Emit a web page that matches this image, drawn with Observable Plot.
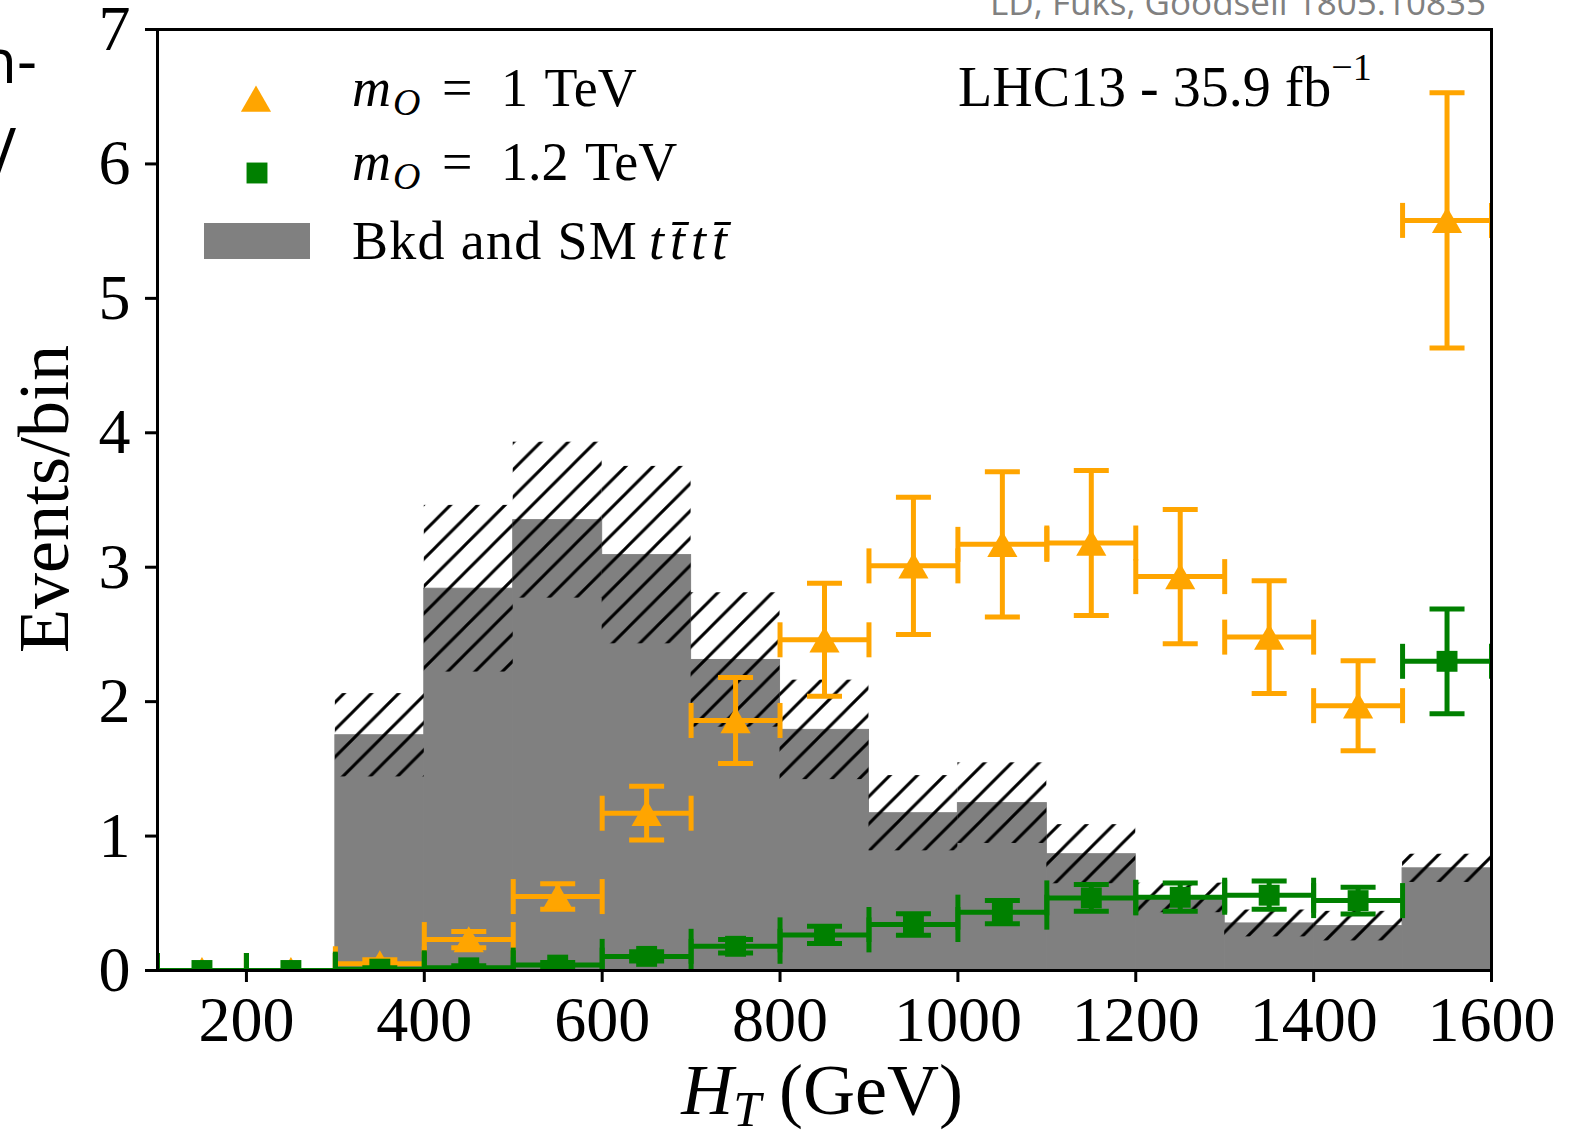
<!DOCTYPE html>
<html>
<head>
<meta charset="utf-8">
<script src="https://cdn.jsdelivr.net/npm/d3@7"></script>
<script src="https://cdn.jsdelivr.net/npm/@observablehq/plot@0.6"></script>
<style>
  html, body { margin: 0; padding: 0; background: #fff; }
  svg { display: block; }
</style>
</head>
<body>
<div id="chart"></div>
<script>
// H_T bins (GeV): centres of 100 GeV wide bins from 100 to 1600
const binCenters = [150, 250, 350, 450, 550, 650, 750, 850, 950, 1050, 1150, 1250, 1350, 1450, 1550];
const binHalfWidth = 50;

// Background + SM tttt expectation per bin and its uncertainty
const bkgYield = [0, 0, 1.75, 2.84, 3.35, 3.09, 2.31, 1.79, 1.17, 1.245, 0.865, 0.54, 0.35, 0.33, 0.76];
const bkgUnc   = [0, 0, 0.31, 0.62, 0.58, 0.66, 0.50, 0.37, 0.28, 0.30, 0.22, 0.11, 0.10, 0.11, 0.105];

// Signal, m_O = 1 TeV
const sig1000    = [0, 0, 0.05, 0.23, 0.55, 1.17, 1.86, 2.46, 3.01, 3.17, 3.18, 2.93, 2.48, 1.97, 5.58];
const sig1000Err = [0, 0, 0.03, 0.06, 0.095, 0.20, 0.32, 0.42, 0.51, 0.54, 0.54, 0.50, 0.42, 0.335, 0.95];

// Signal, m_O = 1.2 TeV
const sig1200    = [0, 0, 0.01, 0.02, 0.04, 0.105, 0.18, 0.265, 0.342, 0.434, 0.54, 0.545, 0.56, 0.52, 2.30];
const sig1200Err = [0, 0, 0.01, 0.015, 0.02, 0.035, 0.05, 0.065, 0.08, 0.087, 0.10, 0.105, 0.105, 0.10, 0.39];

// Axis ticks
const xTickValues = [200, 400, 600, 800, 1000, 1200, 1400, 1600];
const yTickValues = [0, 1, 2, 3, 4, 5, 6, 7];

const ORANGE = "#ffa500";
const GREEN = "#008000";
const GREY = "#808080";
const SERIF = "'Liberation Serif', 'DejaVu Serif', serif";
const SANS = "'Open Sans', 'Noto Sans', sans-serif";

const bkgRows = binCenters.map((c, i) => ({
  x1: c - binHalfWidth, x2: c + binHalfWidth, y: bkgYield[i],
  lo: bkgYield[i] - bkgUnc[i], hi: bkgYield[i] + bkgUnc[i]
}));

// short cap segments drawn as custom dot symbols (fixed pixel length)
const vCap = { draw(ctx, size) { const r = Math.sqrt(size / Math.PI); ctx.moveTo(0, -r); ctx.lineTo(0, r); } };
const hCap = { draw(ctx, size) { const r = Math.sqrt(size / Math.PI); ctx.moveTo(-r, 0); ctx.lineTo(r, 0); } };

function errorBars(vals, errs, color) {
  const rows = binCenters.map((c, i) => ({ c, v: vals[i], e: errs[i] }));
  const line = { stroke: color, strokeWidth: 5, strokeLinecap: "butt", clip: true };
  const cap = { ...line, fill: "none", r: 17.5 };
  return [
    Plot.ruleY(rows, { y: "v", x1: d => d.c - binHalfWidth, x2: d => d.c + binHalfWidth, ...line }),
    Plot.ruleX(rows, { x: "c", y1: d => d.v - d.e, y2: d => d.v + d.e, ...line }),
    Plot.dot(rows, { x: d => d.c - binHalfWidth, y: "v", symbol: vCap, ...cap }),
    Plot.dot(rows, { x: d => d.c + binHalfWidth, y: "v", symbol: vCap, ...cap }),
    Plot.dot(rows, { x: "c", y: d => d.v + d.e, symbol: hCap, ...cap }),
    Plot.dot(rows, { x: "c", y: d => d.v - d.e, symbol: hCap, ...cap })
  ];
}

const sig1000Rows = binCenters.map((c, i) => ({ c, v: sig1000[i] }));
const sig1200Rows = binCenters.map((c, i) => ({ c, v: sig1200[i] }));

const W = 1588, H = 1131;
const chart = Plot.plot({
  width: W,
  height: H,
  marginLeft: 157,
  marginRight: 97,
  marginTop: 29,
  marginBottom: 161,
  style: { background: "white", color: "black", overflow: "visible" },
  x: { domain: [100, 1600] },
  y: { domain: [0, 7] },
  marks: [
    // background histogram
    Plot.rect(bkgRows, { x1: "x1", x2: "x2", y1: 0, y2: "y", fill: GREY, stroke: GREY, strokeWidth: 1, clip: true }),
    // background uncertainty band, hatched
    Plot.rect(bkgRows.filter(d => d.hi > d.lo), { x1: "x1", x2: "x2", y1: "lo", y2: "hi", fill: "url(#bkgHatch)", clip: true }),
    // m_O = 1 TeV
    ...errorBars(sig1000, sig1000Err, ORANGE),
    Plot.dot(sig1000Rows, { x: "c", y: "v", symbol: "triangle", r: 11.2, dy: 4, fill: ORANGE, stroke: "none", clip: true }),
    // m_O = 1.2 TeV
    ...errorBars(sig1200, sig1200Err, GREEN),
    Plot.dot(sig1200Rows, { x: "c", y: "v", symbol: "square", r: 11.8, fill: GREEN, stroke: "none", clip: true }),
    Plot.frame({ stroke: "black", strokeWidth: 3 }),
    Plot.axisX({ ticks: xTickValues, tickFormat: d => String(d), tickSize: 12, tickPadding: 13, strokeWidth: 3, fontSize: 64, fontFamily: SERIF, label: null }),
    Plot.axisY({ ticks: yTickValues, tickFormat: d => String(d), tickSize: 12, tickPadding: 15, strokeWidth: 3, fontSize: 64, fontFamily: SERIF, label: null })
  ]
});

document.getElementById("chart").appendChild(chart);

const svg = d3.select(chart);

// hatch pattern for the uncertainty band
const S = 27.3;
svg.insert("defs", ":first-child")
  .append("pattern")
  .attr("id", "bkgHatch")
  .attr("patternUnits", "userSpaceOnUse")
  .attr("width", S).attr("height", S)
  .append("path")
  .attr("d", `M${-S / 4},${S / 4} L${S / 4},${-S / 4} M0,${S} L${S},0 M${S * 0.75},${S * 1.25} L${S * 1.25},${S * 0.75}`)
  .attr("stroke", "black").attr("stroke-width", 3).attr("fill", "none");

const overlay = svg.append("g").attr("class", "annotations").attr("text-anchor", "start");

// axis titles
overlay.append("text")
  .attr("transform", "translate(68,499) rotate(-90)")
  .attr("text-anchor", "middle")
  .attr("font-family", SERIF).attr("font-size", 72)
  .text("Events/bin");

const xt = overlay.append("text")
  .attr("x", 822).attr("y", 1114)
  .attr("text-anchor", "middle")
  .attr("font-family", SERIF).attr("font-size", 72);
xt.append("tspan").attr("font-style", "italic").text("H");
xt.append("tspan").attr("font-style", "italic").attr("font-size", 50).attr("dy", 12).text("T");
xt.append("tspan").attr("dy", -12).text("\u00a0(GeV)");

// legend
const legendFont = 54;
overlay.append("path")
  .attr("d", d3.symbol(d3.symbolTriangle, Math.PI * 11.2 * 11.2)())
  .attr("transform", "translate(256,103)")
  .attr("fill", ORANGE);
overlay.append("path")
  .attr("d", d3.symbol(d3.symbolSquare, Math.PI * 11.8 * 11.8)())
  .attr("transform", "translate(257,173)")
  .attr("fill", GREEN);
overlay.append("rect")
  .attr("x", 204).attr("y", 223).attr("width", 106).attr("height", 36)
  .attr("fill", GREY);

function massLabel(y, mass) {
  const t = overlay.append("text")
    .attr("y", y)
    .attr("text-anchor", "start")
    .attr("font-family", SERIF).attr("font-size", legendFont);
  t.append("tspan").attr("x", 352).attr("font-style", "italic").text("m");
  t.append("tspan").attr("font-style", "italic").attr("font-size", 38).attr("dx", 2).attr("dy", 9).text("O");
  t.append("tspan").attr("x", 442).attr("dy", -9).text("=");
  t.append("tspan").attr("x", 501).attr("word-spacing", 4).text(mass + " TeV");
}
massLabel(106, "1");
massLabel(180, "1.2");

const bk = overlay.append("text")
  .attr("y", 259)
  .attr("text-anchor", "start")
  .attr("font-family", SERIF).attr("font-size", legendFont);
bk.append("tspan").attr("x", 352).attr("letter-spacing", 1.3).text("Bkd and SM");
bk.append("tspan").attr("x", 649).attr("font-style", "italic").attr("letter-spacing", 6).text("tt\u0304tt\u0304");

// luminosity tag
const lhc = overlay.append("text")
  .attr("x", 958).attr("y", 106)
  .attr("text-anchor", "start")
  .attr("font-family", SERIF).attr("font-size", 56);
lhc.append("tspan").text("LHC13 - 35.9 fb");
lhc.append("tspan").attr("font-size", 38).attr("dy", -26).text("\u22121");

// slide credit along the top edge
overlay.append("text")
  .attr("x", 1486).attr("y", 15)
  .attr("text-anchor", "end")
  .attr("font-family", SANS)
  .attr("font-size", 35)
  .attr("fill", "#808080")
  .text("LD, Fuks, Goodsell 1805.10835");

// fragments of neighbouring slide text at the left edge
overlay.append("text")
  .attr("x", 37).attr("y", 83)
  .attr("text-anchor", "end")
  .attr("font-family", SANS)
  .attr("font-size", 62)
  .text("n-");
overlay.append("text")
  .attr("x", 16).attr("y", 173)
  .attr("text-anchor", "end")
  .attr("font-family", SANS)
  .attr("font-size", 62)
  .text("V");
</script>
</body>
</html>
